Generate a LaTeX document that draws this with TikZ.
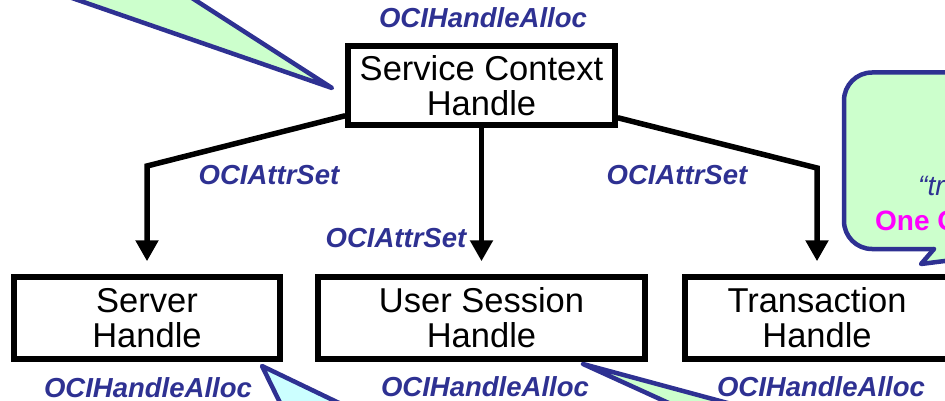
\documentclass[tikz,border=0pt]{standalone}
\usepackage{fontspec}
\setmainfont{Liberation Sans}
\usetikzlibrary{arrows.meta}
\definecolor{navy}{RGB}{46,49,146}
\definecolor{cgreen}{RGB}{204,255,204}
\definecolor{ccyan}{RGB}{204,255,255}
\definecolor{cmag}{RGB}{255,0,255}
\begin{document}
\begin{tikzpicture}[x=1pt,y=-1pt,
  hbox/.style={draw, line width=5.5pt, fill=white, align=center, inner sep=0pt,
    font=\fontsize{34.5}{35}\selectfont},
  lbl/.style={text=navy, inner sep=0pt, font=\fontsize{27.5}{30}\selectfont\bfseries\itshape},
  conn/.style={line width=5.5pt, -{Triangle[width=22pt,length=21pt]}},
  callout/.style={draw=navy, line width=4.5pt, line join=round, line cap=round}]
\useasboundingbox (0,0) rectangle (945,401);
\clip (0,0) rectangle (945,401);

% callouts (background)
\fill[cgreen] (20,-20) -- (332,88) -- (164,-20) -- cycle;
\draw[callout] (20,-20) -- (332,88) -- (164,-20);

\draw[callout, fill=cgreen, rounded corners=28pt] (844,72.5) rectangle (1100,249);
\fill[cgreen] (934,245) -- (934,249) -- (921,264) -- (1000,254) -- (1000,245) -- cycle;
\draw[callout] (934,249) -- (921,264) -- (1000,254);
\node[anchor=base west, inner sep=0pt, text=navy, font=\fontsize{28}{30}\selectfont\itshape] (tq) at (918,195) {“tr};
\node[anchor=base west, inner sep=0pt, text=cmag, font=\fontsize{28}{30}\selectfont\bfseries] (one) at (875,230) {One O};

\fill[ccyan] (262,366) -- (286,415) -- (364,415) -- cycle;
\draw[callout] (286,415) -- (262,366) -- (364,415);

\fill[cgreen] (583,364) -- (695,415) -- (772,415) -- cycle;
\draw[callout] (695,415) -- (583,364) -- (772,415);

% boxes
\node[hbox, minimum width=267pt, minimum height=79pt] (sc) at (481.5,85.5) {Service Context\\Handle};
\node[hbox, minimum width=266pt, minimum height=82pt] (srv) at (147,318) {Server\\Handle};
\node[hbox, minimum width=327pt, minimum height=82pt] (us) at (481.5,318) {User Session\\Handle};
\node[hbox, minimum width=264pt, minimum height=82pt] (tr) at (817,318) {Transaction\\Handle};

% connectors
\coordinate (bl) at (147,166);
\coordinate (br) at (817,168);
\draw[conn] ([yshift=12pt]sc.south west) -- (bl) -- ([yshift=13pt]srv.north);
\draw[conn] (sc.south) -- ([yshift=13pt]us.north);
\draw[conn] ([yshift=10pt]sc.south east) -- (br) -- ([yshift=13pt]tr.north);

% labels
\node[lbl] (l1) at (483,18) {OCIHandleAlloc};
\node[lbl] (l2) at (269,175) {OCIAttrSet};
\node[lbl] (l3) at (677,175) {OCIAttrSet};
\node[lbl] (l4) at (396,238) {OCIAttrSet};
\node[lbl] (l5) at (148,388) {OCIHandleAlloc};
\node[lbl] (l6) at (485,387) {OCIHandleAlloc};
\node[lbl] (l7) at (821,387) {OCIHandleAlloc};
\end{tikzpicture}
\end{document}
